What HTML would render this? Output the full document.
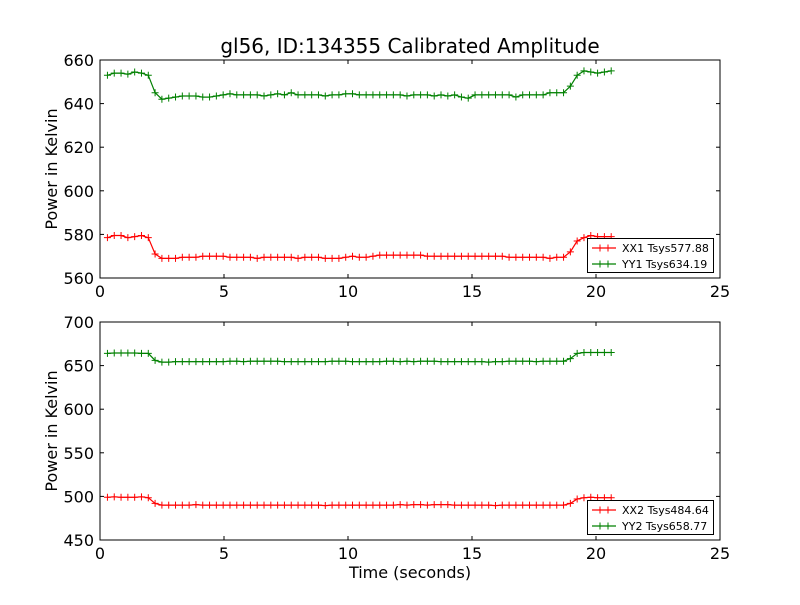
<!DOCTYPE html>
<html><head><meta charset="utf-8"><style>
body{margin:0;background:#fff;}
svg text{font-family:"DejaVu Sans","Liberation Sans",sans-serif;}
</style></head><body>
<svg id="chart" width="800" height="600" xmlns="http://www.w3.org/2000/svg"></svg>
<script>
const t0 = 0.3, dt = 0.2745;
const xTicks = [0,5,10,15,20,25];
const topYTicks = [560,580,600,620,640,660];
const botYTicks = [450,500,550,600,650,700];
const xx1 = [578.5,579.5,579.5,578.5,579,579.5,578.5,571,569,569,569,569.5,569.5,569.5,570,570,570,570,569.5,569.5,569.5,569.5,569,569.5,569.5,569.5,569.5,569.5,569,569.5,569.5,569.5,569,569,569,569.5,570,569.5,569.5,570,570.5,570.5,570.5,570.5,570.5,570.5,570.5,570,570,570,570,570,570,570,570,570,570,570,570,569.5,569.5,569.5,569.5,569.5,569.5,569,569.5,569.5,572,577,578.5,579.5,579,579,579];
const yy1 = [653,654,654,653.5,654.5,654,653,645,642,642.5,643,643.5,643.5,643.5,643,643,643.5,644,644.5,644,644,644,644,643.5,644,644.5,644,645,644,644,644,644,643.5,644,644,644.5,644.5,644,644,644,644,644,644,644,643.5,644,644,644,643.5,644,643.5,644,643,642.5,644,644,644,644,644,644,643,644,644,644,644,645,645,645,648,653,655,654.5,654,654.5,655];
const xx2 = [499,499.5,499,499,499,499.5,498.5,492,490,490,490,490,490,490.5,490,490,490,490,490,490,490,490,490,490,490,490,490,490,490,490,490,490,489.5,490,490,490,490,490,490,490,490,490,490,490.5,490,490.5,490.5,490,490.5,490.5,490.5,490,490,490,490,490,490,489.5,490,490,490,490,490,490,490,490,490,490,492,497,498.5,499,498.5,498.5,498.5];
const yy2 = [664,664.5,664.5,664.5,664.5,664,664,656,654,654,654.5,654.5,654.5,654.5,654.5,654.5,654.5,654.5,655,655,654.5,655,655,655,655,655,654.5,654.5,654.5,654.5,654.5,654.5,654.5,655,655,655,654.5,654.5,654.5,654.5,654.5,655,655,654.5,655,654.5,655,655,655,654.5,654.5,654.5,654.5,654.5,654.5,654.5,654,654.5,654.5,655,655,655,655,654.5,655,655,655,655,658,664,665,665,665,665,665];

const svg = document.getElementById('chart');
const NS = 'http://www.w3.org/2000/svg';
function mk(tag, attrs, parent){const e=document.createElementNS(NS,tag);for(const k in attrs)e.setAttribute(k,attrs[k]);(parent||svg).appendChild(e);return e;}

function panel(top, yTicks, seriesA, seriesB, labA, labB, name){
  const L=100,R=720,T=top,B=top+218;
  const ymin=yTicks[0], ymax=yTicks[yTicks.length-1];
  const xs = v => L + (v-0)/(25-0)*(R-L);
  const ys = v => B - (v-ymin)/(ymax-ymin)*(B-T);
  const g = mk('g',{});
  
  
  xTicks.forEach(v=>{
    const x=xs(v);
    mk('line',{x1:x,x2:x,y1:B,y2:B-4,stroke:'#000'},g);
    mk('line',{x1:x,x2:x,y1:T,y2:T+4,stroke:'#000'},g);
    const tx=mk('text',{x:x,y:B+19,'font-size':16,'text-anchor':'middle'},g);
    
    
    tx.textContent=v;
  });
  yTicks.forEach(v=>{
    const y=ys(v);
    mk('line',{x1:L,x2:L+4,y1:y,y2:y,stroke:'#000'},g);
    mk('line',{x1:R,x2:R-4,y1:y,y2:y,stroke:'#000'},g);
    const tx=mk('text',{x:L-6,y:y+6,'font-size':16,'text-anchor':'end'},g);
    
    
    tx.textContent=v;
  });
  const yl=mk('text',{x:0,y:0,'font-size':16,'text-anchor':'middle',transform:`translate(57,${(T+B)/2}) rotate(-90)`},g);
  
  
  yl.textContent='Power in Kelvin';
  [[seriesA,'#ff0000'],[seriesB,'#008000']].forEach(([s,c],si)=>{
    const pts=s.map((v,i)=>xs(t0+i*dt).toFixed(1)+','+ys(v).toFixed(1)).join(' ');
    const pl=mk('polyline',{points:pts,fill:'none',stroke:c,'stroke-width':1.2},g);
    
    
    s.forEach((v,i)=>{
      const x=xs(t0+i*dt), y=ys(v);
      mk('path',{d:`M${x-3.5},${y}H${x+3.5}M${x},${y-3.5}V${y+3.5}`,stroke:c,'stroke-width':1},g);
    });
  });
  mk('rect',{x:L,y:T,width:R-L,height:B-T,fill:'none',stroke:'#000','stroke-width':1},g);
  const lg=mk('g',{},g);
  
  
  mk('rect',{x:587.5,y:B-39.5,width:126,height:34,fill:'#fff',stroke:'#000'},lg);
  [[labA,'#ff0000'],[labB,'#008000']].forEach(([lab,c],k)=>{
    const y=B-30+k*16;
    mk('line',{x1:592,x2:616,y1:y,y2:y,stroke:c,'stroke-width':1.2},lg);
    mk('path',{d:`M600,${y-3.5}V${y+3.5}M608,${y-3.5}V${y+3.5}`,stroke:c},lg);
    const tx=mk('text',{x:622,y:y+4,'font-size':11},lg);
    
    
    tx.textContent=lab;
  });
}
panel(60, topYTicks, xx1, yy1, 'XX1 Tsys577.88', 'YY1 Tsys634.19', 'top-panel');
panel(322, botYTicks, xx2, yy2, 'XX2 Tsys484.64', 'YY2 Tsys658.77', 'bottom-panel');
const title=mk('text',{x:410,y:53,'font-size':20,'text-anchor':'middle'});


title.textContent='gl56, ID:134355 Calibrated Amplitude';
const xt=mk('text',{x:410,y:578,'font-size':16,'text-anchor':'middle'});


xt.textContent='Time (seconds)';
</script>
</body></html>
